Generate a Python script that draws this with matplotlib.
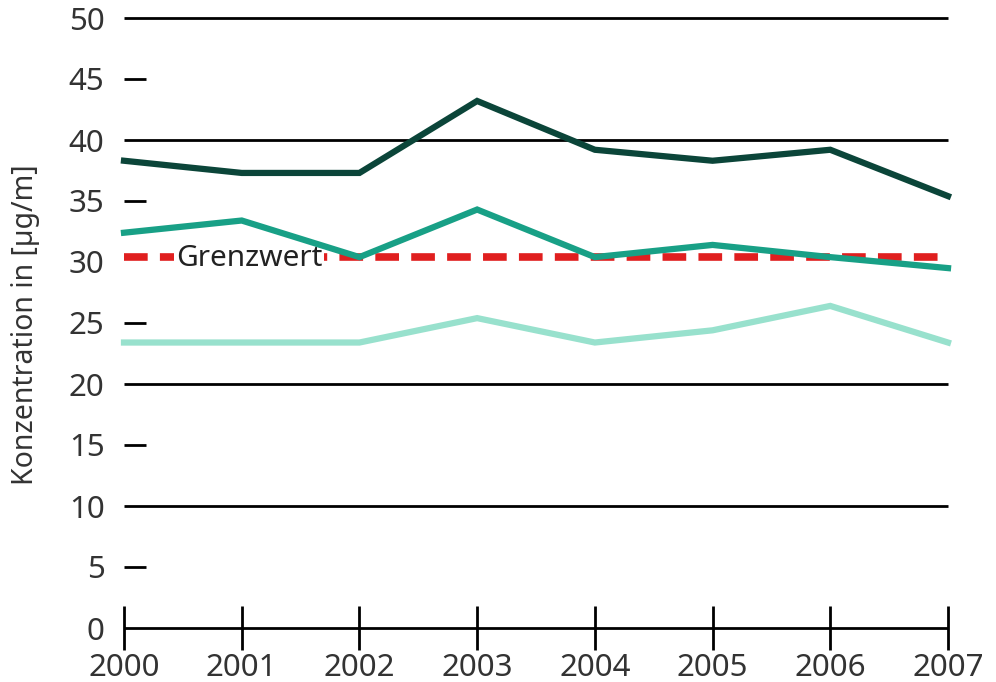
import matplotlib
matplotlib.use("Agg")
import matplotlib.pyplot as plt

years = [2000, 2001, 2002, 2003, 2004, 2005, 2006, 2007]
dark = [38.3, 37.3, 37.3, 43.2, 39.2, 38.3, 39.2, 35.4]
mid = [32.4, 33.4, 30.4, 34.3, 30.4, 31.4, 30.4, 29.5]
light = [23.4, 23.4, 23.4, 25.4, 23.4, 24.4, 26.4, 23.4]
limit_value = 30.4
limit_label = "Grenzwert"
grid_values = [10, 20, 40, 50]
minor_values = [5, 15, 25, 35, 45]
ytick_values = [0, 5, 10, 15, 20, 25, 30, 35, 40, 45, 50]
ylabel = "Konzentration in [µg/m]"

plt.rcParams['font.family'] = ['Noto Sans', 'DejaVu Sans']

fig = plt.figure(figsize=(9.96, 6.82), dpi=100)
ax = fig.add_axes([124/996, 54/682, (948-124)/996, (628-18)/682])
ax.set_xlim(2000, 2007)
ax.set_ylim(0, 50)
for s in ax.spines.values():
    s.set_visible(False)

for g in grid_values:
    ax.plot([2000, 2007], [g, g], color='black', lw=2, solid_capstyle='butt', zorder=1, clip_on=False)
for m in minor_values:
    ax.plot([2000, 2000.19], [m, m], color='black', lw=2, solid_capstyle='butt', zorder=1, clip_on=False)
ax.plot([2000, 2007], [0, 0], color='black', lw=2, solid_capstyle='butt', zorder=1, clip_on=False)

ax.plot([2000, 2007], [limit_value, limit_value], color='#e01f1f', lw=5.5, ls=(0, (3.1, 1.6)),
        dash_capstyle='butt', zorder=2, clip_on=False)
ax.text(2000.44, limit_value - 0.15, limit_label, fontsize=21.5, color='#222222', va='center', ha='left',
        zorder=3, bbox=dict(facecolor='white', edgecolor='none', pad=1.0))

ax.plot(years, light, color='#98e1cd', lw=4.5, zorder=4, solid_joinstyle='miter', clip_on=False)
ax.plot(years, mid, color='#18a086', lw=4.5, zorder=5, solid_joinstyle='miter', clip_on=False)
ax.plot(years, dark, color='#0b4539', lw=4.5, zorder=6, solid_joinstyle='miter', clip_on=False)

ax.set_yticks(ytick_values)
ax.set_yticklabels([str(v) for v in ytick_values], fontsize=22.5, color='#333333')
ax.tick_params(axis='y', length=0, pad=14)
ax.set_xticks(years)
ax.set_xticklabels([str(y) for y in years], fontsize=22.5, color='#333333')
ax.tick_params(axis='x', direction='inout', length=32, width=2, color='black', pad=2)

fig.text(26/996, 1 - 325/682, ylabel, fontsize=20.5, color='#333333', rotation=90,
         ha='center', va='center')

fig.savefig("out.png", dpi=100)
